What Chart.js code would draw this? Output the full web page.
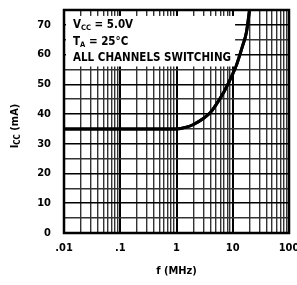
<!DOCTYPE html>
<html>
<head>
<meta charset="utf-8">
<script src="https://cdn.jsdelivr.net/npm/chart.js@4"></script>
<style>
  html, body { margin: 0; padding: 0; background: #fff; overflow: hidden; }
  #wrap { width: 297px; height: 285px; position: relative; }
</style>
</head>
<body>
<div id="wrap"><canvas id="icc"></canvas></div>
<script>
// supply current vs frequency
const freqMHz = [0.01, 0.1, 1, 1.5, 2, 3, 4, 5, 7, 10, 12, 15, 17.5, 20, 22];
const iccMA = [35, 35, 35, 35.6, 36.5, 38.5, 40.5, 43, 47.5, 53.5, 57.2, 63, 67.5, 75.5, 82];

const decades = [0.01, 0.1, 1, 10, 100];
const decadeLabels = [".01", ".1", "1", "10", "100"];
const yLabels = [0, 10, 20, 30, 40, 50, 60, 70];

const FONT = "'DejaVu Sans Condensed', sans-serif";

// log paper: 1..9 in every decade
const xGrid = [];
decades.slice(0, -1).forEach(d => {
  for (let k = 1; k < 10; k++) xGrid.push(+(d * k).toPrecision(3));
});
xGrid.push(100);

const isDecade = v => decades.some(d => Math.abs(d - v) < d * 1e-6);

const paperPlugin = {
  id: 'paper',
  afterDatasetsDraw(chart) {
    const { ctx, chartArea: a, scales } = chart;
    const x = scales.x, y = scales.y;

    // white label box over the grid
    const bx = a.left + 2, by = y.getPixelForValue(73);
    const bw = x.getPixelForValue(11) - bx, bh = y.getPixelForValue(56) - by;
    ctx.save();
    ctx.fillStyle = '#fff';
    ctx.fillRect(bx, by, bw, bh);

    ctx.fillStyle = '#000';
    ctx.textBaseline = 'middle';
    ctx.textAlign = 'left';
    const big = "bold 11.5px " + FONT, small = "bold 7.5px " + FONT;
    let tx = a.left + 9;
    // V_CC = 5.0V
    ctx.font = big; ctx.fillText("V", tx, 25);
    let w = ctx.measureText("V").width;
    ctx.font = small; ctx.fillText("CC", tx + w, 28);
    w += ctx.measureText("CC").width;
    ctx.font = big; ctx.fillText(" = 5.0V", tx + w, 25);
    // T_A = 25°C
    ctx.fillText("T", tx, 42);
    w = ctx.measureText("T").width;
    ctx.font = small; ctx.fillText("A", tx + w, 45);
    w += ctx.measureText("A").width;
    ctx.font = big; ctx.fillText(" = 25°C", tx + w, 42);
    ctx.fillText("ALL CHANNELS SWITCHING", tx, 58);

    // redraw the curve on top of the box
    const meta = chart.getDatasetMeta(0);
    ctx.beginPath();
    ctx.rect(a.left, a.top, a.right - a.left, a.bottom - a.top);
    ctx.clip();
    meta.dataset.draw(ctx, a);
    ctx.restore();

    // frame
    ctx.save();
    ctx.strokeStyle = '#000';
    ctx.lineWidth = 2.5;
    ctx.strokeRect(a.left, a.top, a.right - a.left, a.bottom - a.top);
    ctx.restore();

    // y title with subscript
    ctx.save();
    ctx.translate(15, 126);
    ctx.rotate(-Math.PI / 2);
    ctx.fillStyle = '#000';
    ctx.textBaseline = 'middle';
    ctx.textAlign = 'left';
    const tb = "bold 11px " + FONT, ts = "bold 8px " + FONT;
    ctx.font = tb; const w1 = ctx.measureText("I").width;
    ctx.font = ts; const w2 = ctx.measureText("CC").width;
    ctx.font = tb; const w3 = ctx.measureText(" (mA)").width;
    let sx = -(w1 + w2 + w3) / 2;
    ctx.fillText("I", sx, 0);
    ctx.font = ts; ctx.fillText("CC", sx + w1, 3);
    ctx.font = tb; ctx.fillText(" (mA)", sx + w1 + w2, 0);
    ctx.restore();
  }
};

new Chart(document.getElementById('icc'), {
  type: 'line',
  data: {
    datasets: [{
      data: freqMHz.map((f, i) => ({ x: f, y: iccMA[i] })),
      borderColor: '#000',
      borderWidth: 3,
      pointRadius: 0,
      cubicInterpolationMode: 'monotone',
      fill: false
    }]
  },
  options: {
    responsive: true,
    maintainAspectRatio: false,
    animation: false,
    layout: { padding: { top: 10, right: 8, left: 0, bottom: 0 } },
    plugins: { legend: { display: false }, tooltip: { enabled: false } },
    scales: {
      x: {
        type: 'logarithmic',
        min: 0.01,
        max: 100,
        afterBuildTicks: s => { s.ticks = xGrid.map(v => ({ value: v })); },
        afterFit: s => { s.height = 52; s.paddingLeft = 0; s.paddingRight = 0; },
        ticks: {
          autoSkip: false,
          maxRotation: 0,
          padding: 9,
          color: '#000',
          font: { family: FONT, size: 11, weight: 'bold' },
          callback: v => {
            const i = decades.findIndex(d => Math.abs(d - v) < d * 1e-6);
            return i >= 0 ? decadeLabels[i] : '';
          }
        },
        grid: {
          drawTicks: false,
          color: c => isDecade(c.tick.value) ? '#000' : '#333',
          lineWidth: c => isDecade(c.tick.value) ? 2 : 1.4
        },
        border: { display: false },
        title: {
          display: true,
          text: 'f (MHz)',
          color: '#000',
          font: { family: FONT, size: 11, weight: 'bold' },
          padding: { top: 2, bottom: 7 }
        }
      },
      y: {
        type: 'linear',
        min: 0,
        max: 75,
        afterFit: s => { s.width = 64; s.paddingTop = 0; s.paddingBottom = 0; },
        ticks: {
          stepSize: 5,
          autoSkip: false,
          padding: 13,
          color: '#000',
          font: { family: FONT, size: 11, weight: 'bold' },
          callback: v => yLabels.includes(v) ? String(v) : ''
        },
        grid: {
          drawTicks: false,
          color: c => c.tick.value % 10 === 0 ? '#000' : '#333',
          lineWidth: 1.6
        },
        border: { display: false }
      }
    }
  },
  plugins: [paperPlugin]
});
</script>
</body>
</html>
